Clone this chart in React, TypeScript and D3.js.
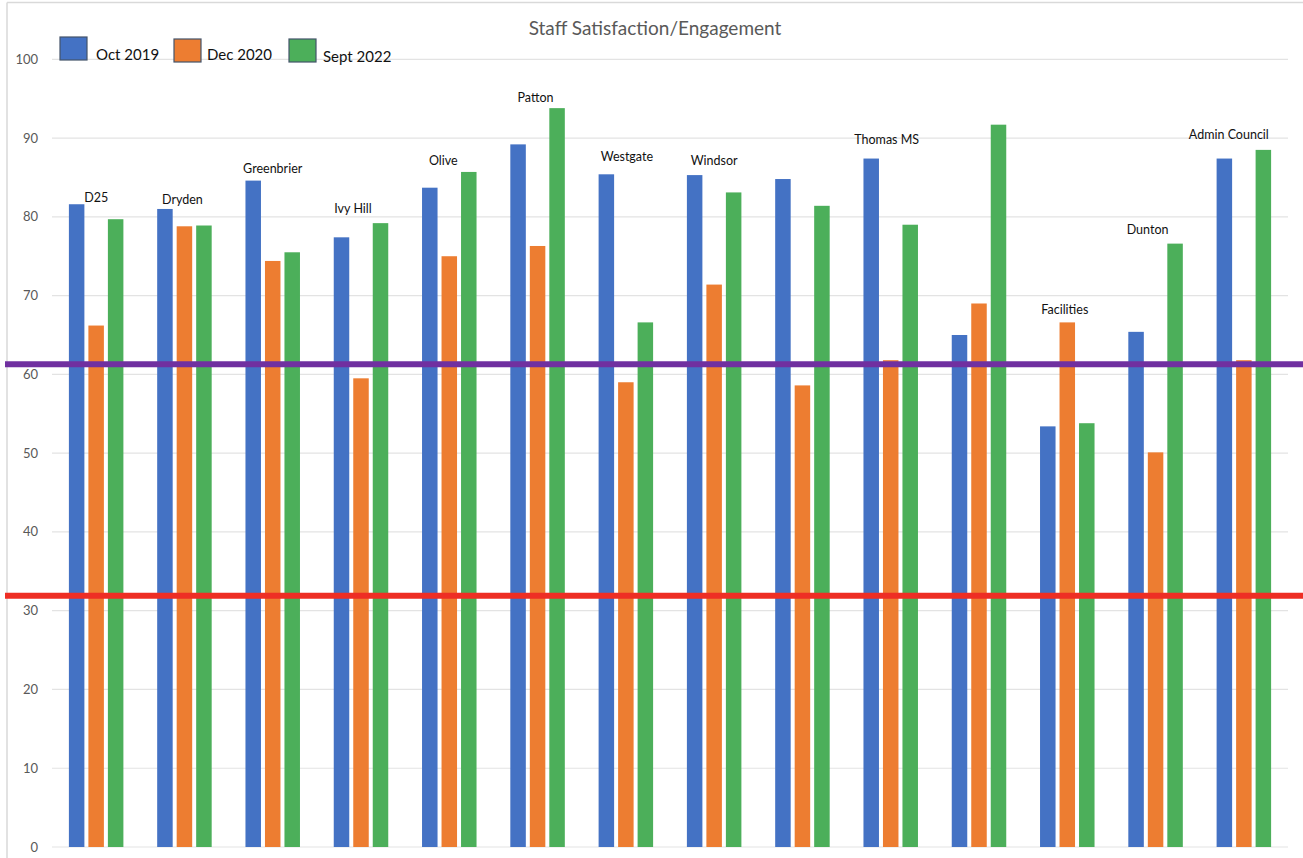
import React from "react";
import * as d3 from "d3";

const groups = ["D25", "Dryden", "Greenbrier", "Ivy Hill", "Olive", "Patton", "Westgate", "Windsor", "G9", "Thomas MS", "G11", "Facilities", "Dunton", "Admin Council"];
const groupLabels = ["D25", "Dryden", "Greenbrier", "Ivy Hill", "Olive", "Patton", "Westgate", "Windsor", "", "Thomas MS", "", "Facilities", "Dunton", "Admin Council"];
const labelLevels = [82.4, 82.2, 86.1, 81.0, 87.2, 95.1, 87.7, 87.2, 0, 89.8, 0, 68.2, 78.4, 90.5];
const labelShift = [0, -2, 0, -8, -6, -2, 1, 0, 0, -4, 0, -2.5, -8, -15];

const seriesNames = ["Oct 2019", "Dec 2020", "Sept 2022"];
const oct2019 = [81.6, 81.0, 84.6, 77.4, 83.7, 89.2, 85.4, 85.3, 84.8, 87.4, 65.0, 53.4, 65.4, 87.4];
const dec2020 = [66.2, 78.8, 74.4, 59.5, 75.0, 76.3, 59.0, 71.4, 58.6, 61.8, 69.0, 66.6, 50.1, 61.8];
const sept2022 = [79.7, 78.9, 75.5, 79.2, 85.7, 93.8, 66.6, 83.1, 81.4, 79.0, 91.7, 53.8, 76.6, 88.5];
const seriesColors = ["#4472C4", "#ED7D31", "#4CAF5A"];

const yTicks = [0, 10, 20, 30, 40, 50, 60, 70, 80, 90, 100];
const purpleLevel = 61.3;
const redLevel = 31.9;

const W = 1303;
const H = 858;
const FONT = "Lato, 'Open Sans', sans-serif";

export default function App() {
  const y = d3.scaleLinear().domain([0, 100]).range([847, 59.3]);
  const x = d3.scaleBand<string>().domain(groups).range([52, 1288]).paddingInner(0).paddingOuter(0);
  const clusterW = 54.5;
  const xs = d3.scaleBand<string>().domain(seriesNames).range([0, clusterW]).paddingInner(0.205).paddingOuter(0);
  const offset = (x.bandwidth() - clusterW) / 2;
  const data = [oct2019, dec2020, sept2022];

  return (
    <svg width={W} height={H} style={{ position: "absolute", left: 0, top: 0, background: "#fff" }} fontFamily={FONT}>
      <rect x={0} y={0} width={W} height={H} fill="#fff" />
      {/* chart frame */}
      <line x1={7} x2={W} y1={2.5} y2={2.5} stroke="#d9d9d9" strokeWidth={1.5} />
      <line x1={7} x2={7} y1={2.5} y2={H} stroke="#d9d9d9" strokeWidth={1.5} />

      {/* gridlines */}
      {yTicks.map((t) => (
        <g key={t}>
          <line x1={52} x2={1288} y1={y(t)} y2={y(t)} stroke="#e3e3e3" strokeWidth={1.2} />
          <text x={38} y={y(t)} dy="0.35em" textAnchor="end" fontSize={13} fill="#595959">{t}</text>
        </g>
      ))}

      {/* bars */}
      {groups.map((g, gi) => (
        <g key={g} transform={`translate(${(x(g) ?? 0) + offset},0)`}>
          {seriesNames.map((s, si) => (
            <rect
              key={s}
              x={xs(s)}
              y={y(data[si][gi])}
              width={xs.bandwidth()}
              height={y(0) - y(data[si][gi])}
              fill={seriesColors[si]}
            />
          ))}
        </g>
      ))}

      {/* group labels */}
      {groups.map((g, gi) =>
        groupLabels[gi] ? (
          <text
            key={"l" + g}
            x={(x(g) ?? 0) + x.bandwidth() / 2 + labelShift[gi]}
            y={y(labelLevels[gi])}
            dy="0.35em"
            textAnchor="middle"
            fontSize={12.5}
            fill="#111"
          >
            {groupLabels[gi]}
          </text>
        ) : null
      )}

      {/* reference lines */}
      <line x1={5} x2={W} y1={y(purpleLevel)} y2={y(purpleLevel)} stroke="#7030A0" strokeWidth={6} />
      <line x1={5} x2={W} y1={y(redLevel)} y2={y(redLevel)} stroke="#EE2E24" strokeWidth={6} />

      {/* title */}
      <text x={655} y={28} dy="0.35em" textAnchor="middle" fontSize={19} fill="#595959">Staff Satisfaction/Engagement</text>

      {/* legend */}
      {seriesNames.map((s, i) => {
        const lx = [60, 174, 289][i];
        const ly = [37, 39, 39][i];
        const tx = [96, 207, 323][i];
        const ty = [55, 55, 57][i];
        return (
          <g key={"leg" + s}>
            <rect x={lx} y={ly} width={27} height={23} fill={seriesColors[i]} stroke="#44546A" strokeWidth={1.2} />
            <text x={tx} y={ty} dy="0.35em" fontSize={15} fill="#111">{s}</text>
          </g>
        );
      })}
    </svg>
  );
}
